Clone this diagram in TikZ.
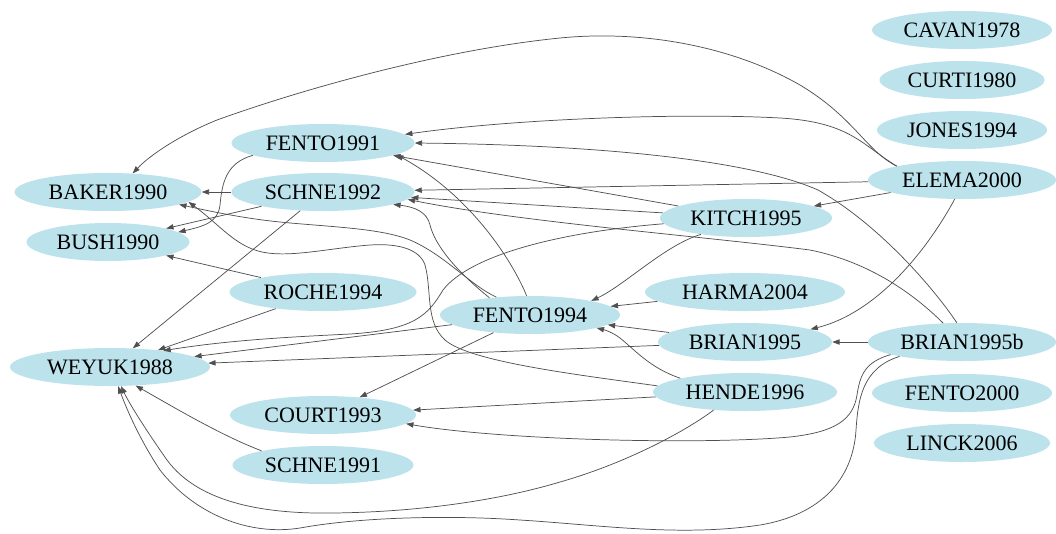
\documentclass[tikz,border=0pt]{standalone}
\usepackage{fontspec}
\setmainfont{Liberation Serif}
\usetikzlibrary{arrows.meta,shapes.geometric}
\definecolor{nodefill}{RGB}{188,226,236}
\definecolor{edgegray}{RGB}{80,80,80}
\begin{document}
\begin{tikzpicture}[x=0.75pt,y=-0.75pt,
  ref/.style={ellipse, fill=nodefill, inner sep=0pt, minimum height=28.5pt,
    text height=11pt, text depth=0pt, font=\fontsize{16.5}{18}\selectfont},
  cite/.style={draw=edgegray, line width=0.55pt,
    -{Triangle[length=5.5pt,width=4pt]}}]
\useasboundingbox (0,0) rectangle (1056,533);

% references
\node[ref, minimum width=137.25pt] (f91)   at (323,143) {FENTO1991};
\node[ref, minimum width=140.25pt] (baker) at (108,192) {BAKER1990};
\node[ref, minimum width=137.25pt] (s92)   at (323,192) {SCHNE1992};
\node[ref, minimum width=122.25pt] (bush)  at (108,242) {BUSH1990};
\node[ref, minimum width=140.25pt] (roche) at (323,292) {ROCHE1994};
\node[ref, minimum width=150pt]    (weyuk) at (110,367) {WEYUK1988};
\node[ref, minimum width=139.5pt]  (court) at (323,415) {COURT1993};
\node[ref, minimum width=135.75pt] (s91)   at (323,465) {SCHNE1991};
\node[ref, minimum width=135pt]    (f94)   at (530,315) {FENTO1994};
\node[ref, minimum width=129pt]    (kitch) at (746,218) {KITCH1995};
\node[ref, minimum width=150pt]    (harma) at (745,292) {HARMA2004};
\node[ref, minimum width=130.5pt]  (b95)   at (745,342) {BRIAN1995};
\node[ref, minimum width=138pt]    (hende) at (745,392) {HENDE1996};
\node[ref, minimum width=135pt]    (cavan) at (962,30)  {CAVAN1978};
\node[ref, minimum width=123.75pt] (curti) at (962,80)  {CURTI1980};
\node[ref, minimum width=127.5pt]  (jones) at (962,130) {JONES1994};
\node[ref, minimum width=141pt]    (elema) at (962,180) {ELEMA2000};
\node[ref, minimum width=141pt]    (b95b)  at (962,342) {BRIAN1995b};
\node[ref, minimum width=135pt]    (f00)   at (962,393) {FENTO2000};
\node[ref, minimum width=132pt]    (linck) at (962,443) {LINCK2006};

% citations of ELEMA2000
\draw[cite] (elema.168) .. controls (865,150) and (855,118) .. (800,85)
  .. controls (730,45) and (640,30) .. (560,38)
  .. controls (440,50) and (300,90) .. (217,120)
  .. controls (180,135) and (150,155) .. (baker.37);
\draw[cite] (elema.168) .. controls (862,145) and (850,122) .. (780,118)
  .. controls (690,113) and (520,118) .. (f91.6);
\draw[cite] (elema) -- (s92);
\draw[cite] (elema) -- (kitch);
\draw[cite] (elema.249) .. controls (930,245) and (880,312) .. (b95.11);

% citations of KITCH1995
\draw[cite] (kitch) -- (f91);
\draw[cite] (kitch) -- (s92);
\draw[cite] (kitch.200) .. controls (665,245) and (625,285) .. (f94.13);
\draw[cite] (kitch.184) .. controls (560,232) and (470,255) .. (443,290)
  .. controls (428,315) and (415,330) .. (350,334)
  .. controls (290,337) and (230,340) .. (weyuk.17);

% citations of HARMA2004 and BRIAN1995
\draw[cite] (harma) -- (f94);
\draw[cite] (b95) -- (f94);
\draw[cite] (b95) -- (weyuk);

% citations of BRIAN1995b
\draw[cite] (b95b) -- (b95);
\draw[cite] (b95b.105) .. controls (935,290) and (880,225) .. (818,190)
  .. controls (750,160) and (600,145) .. (f91.0);
\draw[cite] (b95b.135) .. controls (915,295) and (870,262) .. (810,250)
  .. controls (700,236) and (520,222) .. (s92.355);
\draw[cite] (b95b.190) .. controls (865,362) and (860,375) .. (857,395)
  .. controls (853,420) and (835,432) .. (790,437)
  .. controls (700,445) and (500,440) .. (court.354);
\draw[cite] (b95b.193) .. controls (862,368) and (858,400) .. (856,430)
  .. controls (853,480) and (820,515) .. (760,525)
  .. controls (680,537) and (600,525) .. (520,520)
  .. controls (450,515) and (360,517) .. (300,528)
  .. controls (250,536) and (195,515) .. (160,470)
  .. controls (140,440) and (127,410) .. (weyuk.293);

% citations of HENDE1996
\draw[cite] (hende.210) .. controls (680,435) and (620,465) .. (560,482)
  .. controls (500,500) and (420,512) .. (333,513)
  .. controls (270,514) and (200,505) .. (167,460)
  .. controls (148,433) and (130,405) .. (weyuk.300);
\draw[cite] (hende.176) .. controls (580,375) and (470,362) .. (445,340)
  .. controls (425,322) and (432,290) .. (425,265)
  .. controls (420,250) and (400,243) .. (370,245)
  .. controls (330,248) and (290,258) .. (262,252)
  .. controls (235,246) and (220,225) .. (baker.353);
\draw[cite] (hende) -- (court);
\draw[cite] (hende.168) .. controls (650,368) and (635,350) .. (620,338)
  .. controls (612,332) and (605,330) .. (f94.349);

% citations of FENTO1994
\draw[cite] (f94.152) .. controls (470,285) and (445,255) .. (410,240)
  .. controls (380,228) and (330,227) .. (280,222)
  .. controls (240,218) and (205,210) .. (baker.350);
\draw[cite] (f94.100) .. controls (512,260) and (470,195) .. (f91.351);
\draw[cite] (f94.157) .. controls (455,270) and (435,245) .. (430,225)
  .. controls (427,212) and (415,207) .. (s92.350);
\draw[cite] (f94) -- (weyuk);
\draw[cite] (f94) -- (court);

% citations of the older papers
\draw[cite] (s92) -- (baker);
\draw[cite] (s92) -- (bush);
\draw[cite] (s92) -- (weyuk);
\draw[cite] (f91.190) .. controls (225,163) and (222,185) .. (220,205)
  .. controls (218,222) and (205,226) .. (bush.8);
\draw[cite] (roche) -- (bush);
\draw[cite] (roche) -- (weyuk);
\draw[cite] (s91.167) .. controls (220,435) and (170,405) .. (weyuk.324);
\end{tikzpicture}
\end{document}
